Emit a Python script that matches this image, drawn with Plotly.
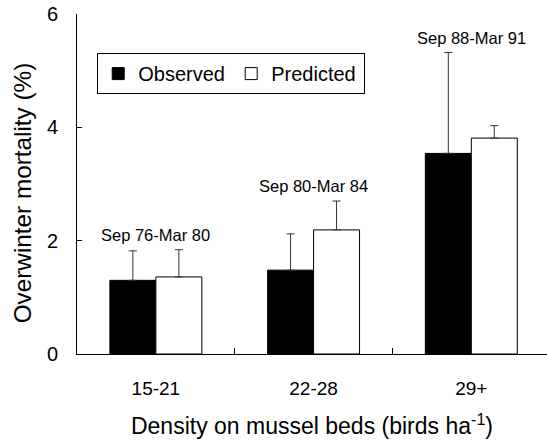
import plotly.graph_objects as go

# Overwinter mortality by bird density class on mussel beds
categories = ["15-21", "22-28", "29+"]
observed = [1.30, 1.48, 3.54]
observed_err = [0.52, 0.64, 1.78]
predicted = [1.36, 2.19, 3.81]
predicted_err = [0.48, 0.51, 0.22]
periods = ["Sep 76-Mar 80", "Sep 80-Mar 84", "Sep 88-Mar 91"]

FONT = "Liberation Sans, Arial, Helvetica, sans-serif"

fig = go.Figure()
fig.add_trace(go.Bar(
    name="Observed", x=categories, y=observed,
    marker=dict(color="black", line=dict(color="black", width=1)),
    error_y=dict(type="data", array=observed_err, arrayminus=[0] * len(observed_err),
                 symmetric=False, color="#333333", thickness=1, width=4),
))
fig.add_trace(go.Bar(
    name="Predicted", x=categories, y=predicted,
    marker=dict(color="white", line=dict(color="black", width=1)),
    error_y=dict(type="data", array=predicted_err, arrayminus=[0] * len(predicted_err),
                 symmetric=False, color="#333333", thickness=1, width=4),
))

# Period label above the taller error bar of each group
for i, (cat, label) in enumerate(zip(categories, periods)):
    top = max(observed[i] + observed_err[i], predicted[i] + predicted_err[i])
    fig.add_annotation(x=cat, y=top, text=label, showarrow=False,
                       yanchor="bottom", yshift=4,
                       font=dict(family=FONT, size=16.5, color="black"))

# Vertical axis title, placed as a rotated annotation
fig.add_annotation(xref="paper", yref="paper", x=-0.116, y=0.474,
                   xanchor="center", yanchor="middle", textangle=-90,
                   text="Overwinter mortality (%)", showarrow=False,
                   font=dict(family=FONT, size=24.3, color="black"))

fig.update_layout(
    width=547, height=441,
    margin=dict(l=77, r=0, t=14, b=87),
    paper_bgcolor="white", plot_bgcolor="white",
    barmode="group", bargap=0.417, bargroupgap=0,
    font=dict(family=FONT, color="black"),
    legend=dict(
        orientation="h", x=0.043, y=0.885, xanchor="left", yanchor="top",
        bordercolor="black", borderwidth=1, bgcolor="white",
        font=dict(family=FONT, size=20), entrywidth=88,
    ),
    xaxis=dict(
        type="category", range=[-0.5, 2.48],
        showline=True, linecolor="black", linewidth=1,
        ticks="inside", tickson="boundaries", ticklen=6, tickcolor="black",
        tickfont=dict(family=FONT, size=19), ticklabelstandoff=17,
        showgrid=False, zeroline=False,
        title=dict(text="Density on mussel beds (birds ha<sup>-1</sup>)",
                   font=dict(family=FONT, size=23), standoff=20),
    ),
    yaxis=dict(
        range=[0, 6], tickvals=[0, 2, 4, 6],
        showline=True, linecolor="black", linewidth=1,
        ticks="inside", ticklen=5, tickcolor="black",
        tickfont=dict(family=FONT, size=20), ticklabelstandoff=14,
        showgrid=False, zeroline=False,
    ),
)

fig.write_html("out.html")
